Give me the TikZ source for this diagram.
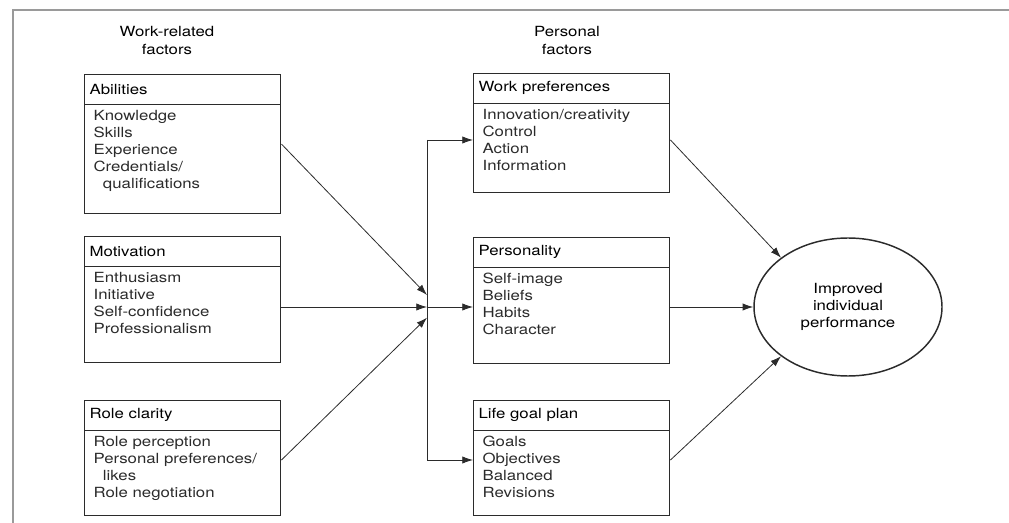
\documentclass[tikz,border=0pt]{standalone}
\usepackage{fontspec}
\setmainfont{TeX Gyre Heros}[FakeStretch=1.2]
\usepackage{tikz}
\usetikzlibrary{arrows.meta,positioning,calc,shapes.geometric}
\definecolor{FrameGray}{HTML}{9A9A9A}
\definecolor{InkDark}{HTML}{2B2B2B}

\begin{document}
\begin{tikzpicture}[x=0.75pt,y=-0.75pt,
    font=\fontsize{10.5}{12.75}\selectfont,
    box/.style={draw=InkDark,line width=1.1pt,minimum width=147pt,anchor=north west,inner sep=0pt},
    head/.style={anchor=north west,minimum width=147pt,minimum height=22.5pt,text width=139pt,inner xsep=4pt,align=left},
    items/.style={anchor=north west,align=left,inner xsep=7pt,inner ysep=4pt,text=InkDark},
    arr/.style={draw=InkDark,line width=0.6pt,-{Latex[length=8pt,width=5.5pt]}},
    title/.style={align=center,font=\fontsize{10.5}{13.5}\selectfont}]
  \useasboundingbox (0,0) rectangle (1009,523);
  % frame
  \draw[FrameGray,line width=1.2pt] (13,523) -- (13,10) -- (1009,10);
  \def\factor#1#2#3#4#5{
    \node[box,minimum height=#3] (#1) at (#2) {};
    \node[head] (#1-h) at (#1.north west) {#4};
    \draw[InkDark,line width=1.1pt] (#1-h.south west) -- (#1-h.south east);
    \node[items] at (#1-h.south west) {#5};
  }
  % column headings
  \node[title] (work) at (167,41) {Work-related\\factors};
  \node[title] (personal) at (567,41) {Personal\\factors};
  % work-related factors
  \factor{abil}{84,74}{104pt}{Abilities}{Knowledge\\Skills\\Experience\\Credentials/\\\ \ qualifications}
  \factor{motiv}{84,236}{94.5pt}{Motivation}{Enthusiasm\\Initiative\\Self-confidence\\Professionalism}
  \factor{role}{84,400}{86pt}{Role clarity}{Role perception\\Personal preferences/\\\ \ likes\\Role negotiation}
  % personal factors
  \factor{workp}{473,73}{89pt}{Work preferences}{Innovation/creativity\\Control\\Action\\Information}
  \factor{pers}{473,237}{94.5pt}{Personality}{Self-image\\Beliefs\\Habits\\Character}
  \factor{lgoal}{473,400}{86pt}{Life goal plan}{Goals\\Objectives\\Balanced\\Revisions}
  % outcome
  \node[draw=InkDark,line width=1.1pt,ellipse,minimum width=141pt,minimum height=103.5pt,
        align=center,inner sep=0pt] (perf) at (848,307) {Improved\\individual\\performance};
  % hub
  \coordinate (hub) at (427,307);
  \coordinate (hubT) at (427,140);
  \coordinate (hubB) at (427,460);
  \draw[InkDark,line width=0.6pt] (hubT) -- (hubB);
  \draw[arr] (abil.east) -- ([yshift=9pt]hub);
  \draw[arr] (motiv.east |- hub) -- (hub);
  \draw[arr] (role.east |- hubB) -- ([yshift=-8pt]hub);
  \draw[arr] (hubT) -- (hubT -| workp.west);
  \draw[arr] (hub) -- (hub -| pers.west);
  \draw[arr] (hubB) -- (hubB -| lgoal.west);
  \draw[arr] (workp.east |- hubT) -- (perf.north west);
  \draw[arr] (pers.east |- hub) -- (perf.west);
  \draw[arr] (lgoal.east |- hubB) -- (perf.south west);
\end{tikzpicture}
\end{document}
